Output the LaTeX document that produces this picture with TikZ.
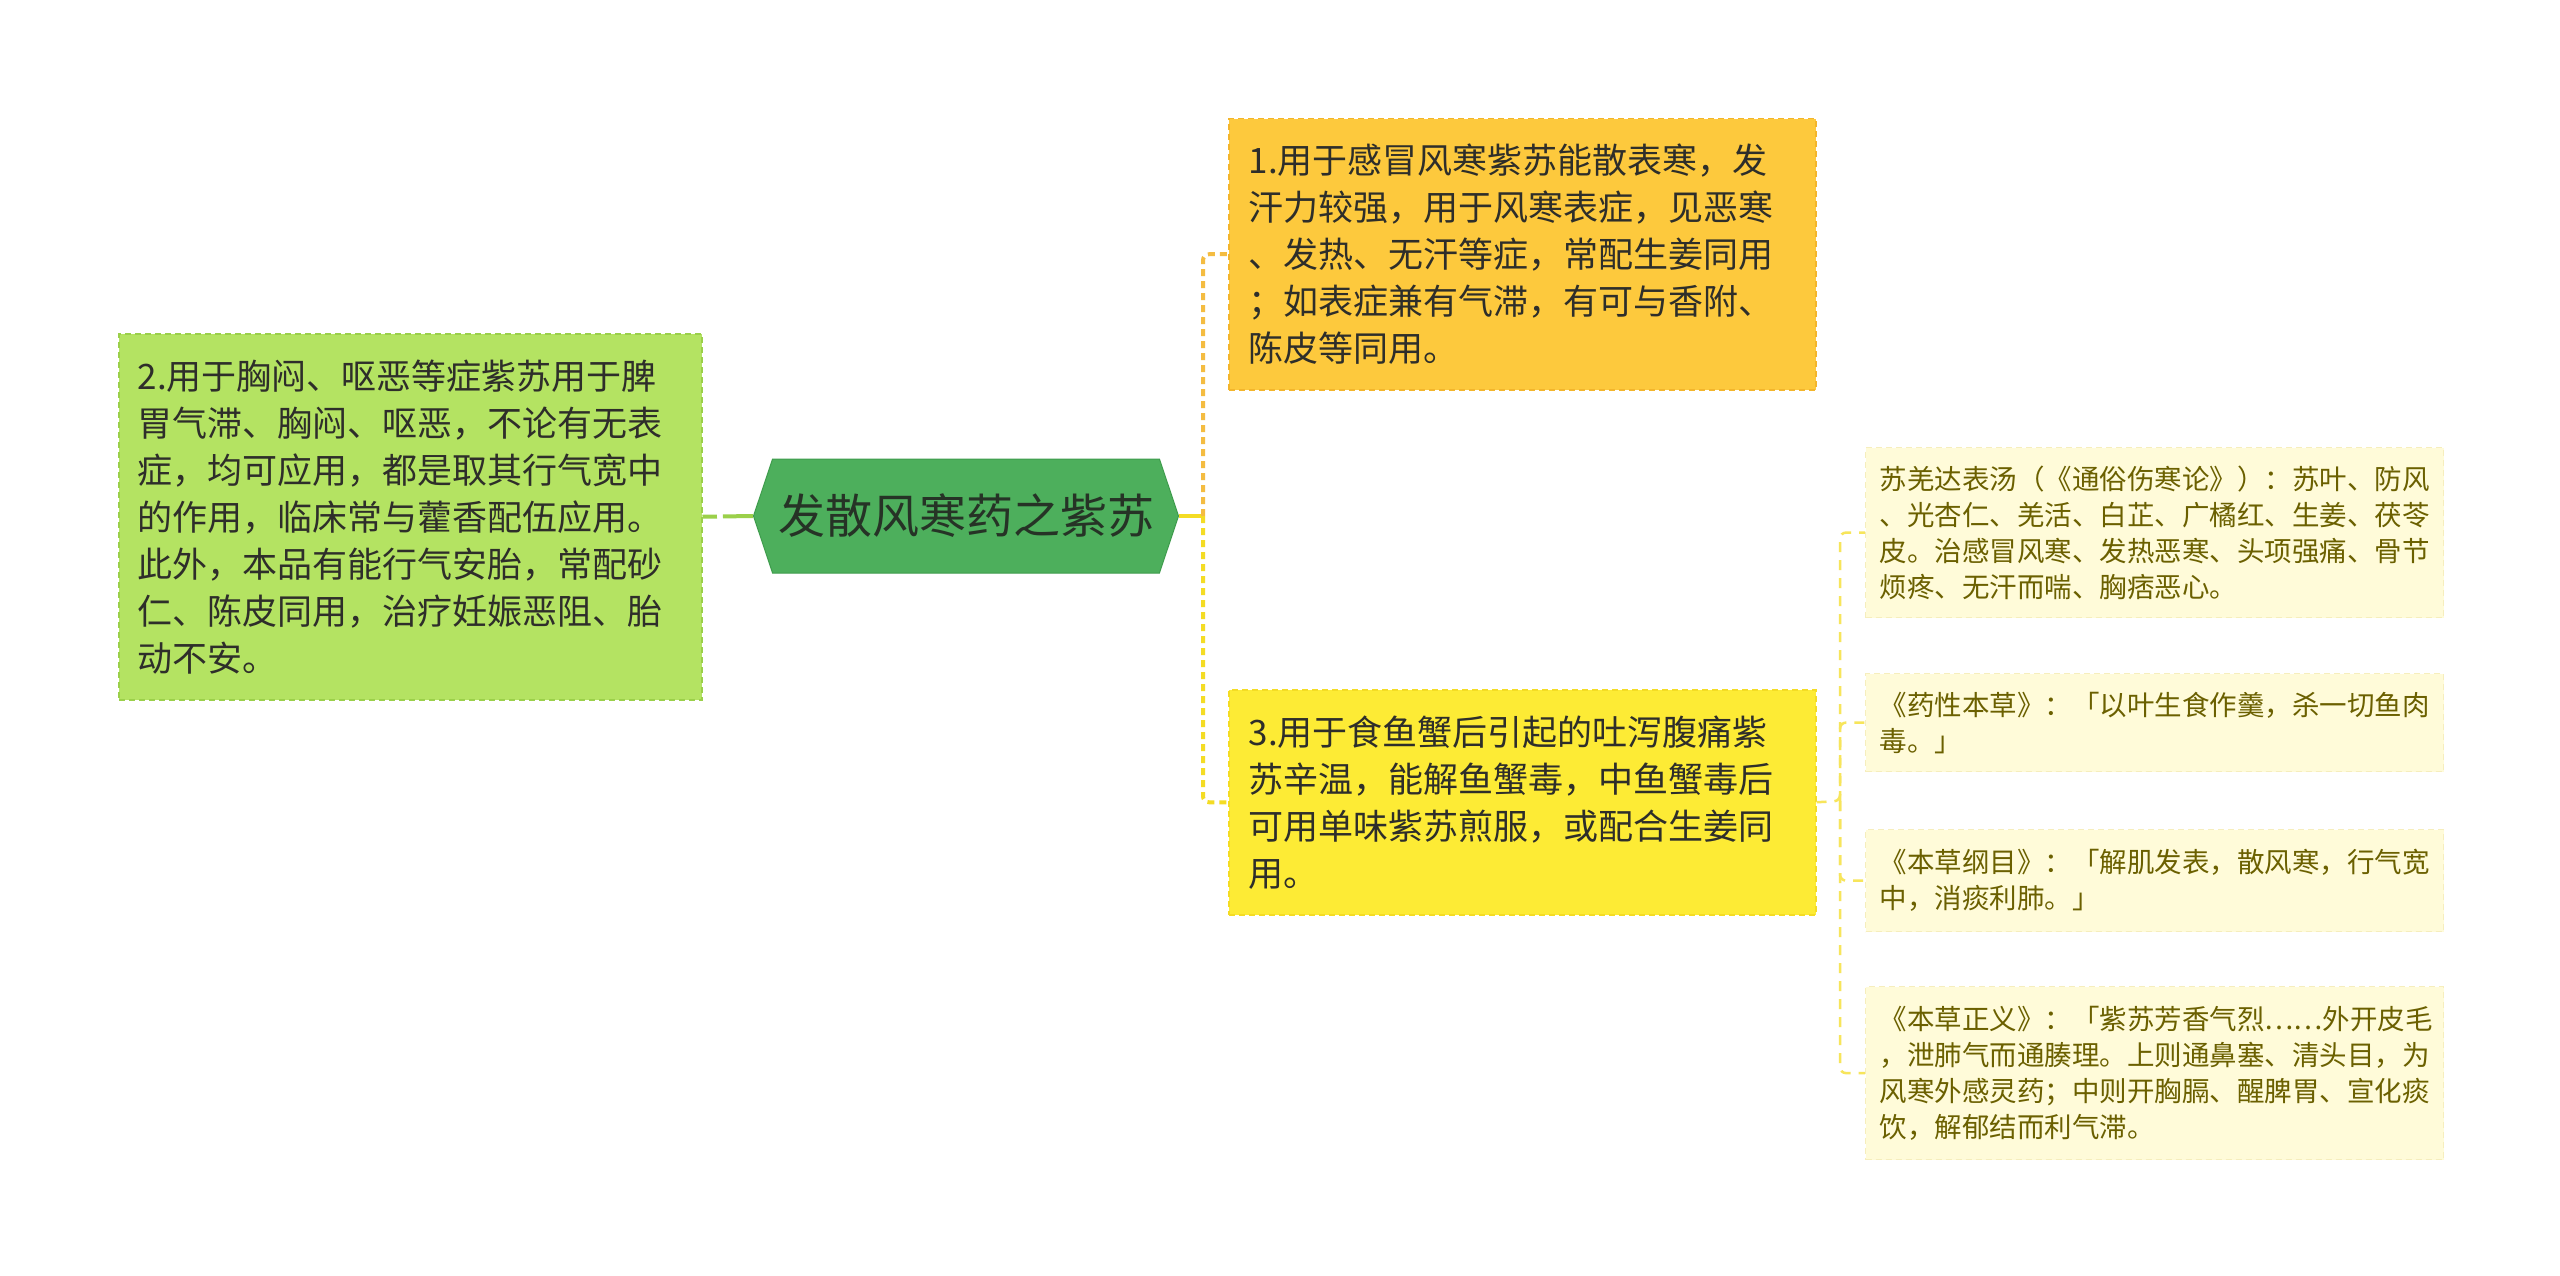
\documentclass[tikz,border=0pt]{standalone}
\usepackage{fontspec}
\setmainfont{Noto Sans CJK SC}
\usepackage{xcolor}
\usetikzlibrary{shapes.symbols}

\definecolor{rootgreen}{HTML}{4DAF5C}
\definecolor{rootedge}{HTML}{3F9C4D}
\definecolor{roottext}{HTML}{263326}
\definecolor{limefill}{HTML}{B4E362}
\definecolor{limeedge}{HTML}{9BD04A}
\definecolor{orangefill}{HTML}{FDC93D}
\definecolor{orangeedge}{HTML}{F3B52C}
\definecolor{yellowfill}{HTML}{FDEB35}
\definecolor{yellowedge}{HTML}{F4DC24}
\definecolor{creamfill}{HTML}{FFFBD9}
\definecolor{creamedge}{HTML}{F6EEBD}
\definecolor{olivetext}{HTML}{6B6000}
\definecolor{darktext}{HTML}{2E2E2A}

\tikzset{
  bigbox/.style={draw, dash pattern=on 6pt off 4pt, line width=1.5pt,
    align=left, anchor=north west, inner xsep=20pt, inner ysep=0pt,
    text=darktext, font=\fontsize{35}{47}\selectfont},
  leafbox/.style={fill=creamfill, draw=creamedge, dash pattern=on 6pt off 4pt,
    line width=1.2pt, align=left, anchor=north west, inner xsep=14pt,
    inner ysep=0pt, text width=550pt, text=olivetext,
    font=\fontsize{27.5}{36}\selectfont},
  orangelink/.style={draw=orangeedge!90, line width=4pt, dash pattern=on 7pt off 5pt,
    rounded corners=6pt},
  yellowlink/.style={draw=yellowedge, line width=4pt, dash pattern=on 7pt off 5pt,
    rounded corners=6pt},
  leaflink/.style={draw=yellowedge!75, line width=2.5pt, dash pattern=on 10pt off 8pt,
    rounded corners=6pt}
}

\begin{document}
\begin{tikzpicture}[x=1pt, y=-1pt]
  \useasboundingbox[fill=white] (0,0) rectangle (2560,1276);

  % centre
  \node[shape=signal, signal to=west and east, signal pointer angle=143,
    minimum width=425pt, minimum height=114pt, inner sep=0pt,
    fill=rootgreen, draw=rootedge, line width=1pt, text=roottext,
    font=\fontsize{47}{56}\selectfont] (root) at (966,516) {发散风寒药之紫苏};

  % left branch
  \node[bigbox, fill=limefill, draw=limeedge, text width=545pt, inner xsep=19pt,
    minimum height=366pt] (usage2) at (118,333)
    {2.用于胸闷、呕恶等症紫苏用于脾\\
     胃气滞、胸闷、呕恶，不论有无表\\
     症，均可应用，都是取其行气宽中\\
     的作用，临床常与藿香配伍应用。\\
     此外，本品有能行气安胎，常配砂\\
     仁、陈皮同用，治疗妊娠恶阻、胎\\
     动不安。};

  % right branches
  \node[bigbox, fill=orangefill, draw=orangeedge, text width=547pt,
    minimum height=271pt] (usage1) at (1228,118)
    {1.用于感冒风寒紫苏能散表寒，发\\
     汗力较强，用于风寒表症，见恶寒\\
     、发热、无汗等症，常配生姜同用\\
     ；如表症兼有气滞，有可与香附、\\
     陈皮等同用。};

  \node[bigbox, fill=yellowfill, draw=yellowedge, text width=547pt,
    minimum height=225pt] (usage3) at (1228,689)
    {3.用于食鱼蟹后引起的吐泻腹痛紫\\
     苏辛温，能解鱼蟹毒，中鱼蟹毒后\\
     可用单味紫苏煎服，或配合生姜同\\
     用。};

  % sources
  \node[leafbox, minimum height=170pt] (recipe) at (1865,447)
    {苏羌达表汤（《通俗伤寒论》）：苏叶、防风\\
     、光杏仁、羌活、白芷、广橘红、生姜、茯苓\\
     皮。治感冒风寒、发热恶寒、头项强痛、骨节\\
     烦疼、无汗而喘、胸痞恶心。};
  \node[leafbox, minimum height=98pt] (yaoxing) at (1865,673)
    {《药性本草》：「以叶生食作羹，杀一切鱼肉\\
     毒。」};
  \node[leafbox, minimum height=102pt] (gangmu) at (1865,829)
    {《本草纲目》：「解肌发表，散风寒，行气宽\\
     中，消痰利肺。」};
  \node[leafbox, minimum height=173pt] (zhengyi) at (1865,986)
    {《本草正义》：「紫苏芳香气烈……外开皮毛\\
     ，泄肺气而通腠理。上则通鼻塞、清头目，为\\
     风寒外感灵药；中则开胸膈、醒脾胃、宣化痰\\
     饮，解郁结而利气滞。};

  % connectors
  \coordinate (rjoin) at (1203,516);
  \coordinate (sjoin) at (1840,801);

  \draw[limeedge, line width=4pt, dash pattern=on 30pt off 6pt] (root.west) -- (usage2.east);
  \draw[yellowedge, line width=4pt] (root.east) -- (rjoin);
  \draw[orangelink] (rjoin) |- (usage1.west);
  \draw[yellowlink] (rjoin) |- (usage3.west);

  \draw[leaflink] (usage3.east) -- (sjoin) |- (recipe.west);
  \draw[leaflink] (sjoin) |- (yaoxing.west);
  \draw[leaflink] (sjoin) |- (gangmu.west);
  \draw[leaflink] (sjoin) |- (zhengyi.west);
\end{tikzpicture}
\end{document}
